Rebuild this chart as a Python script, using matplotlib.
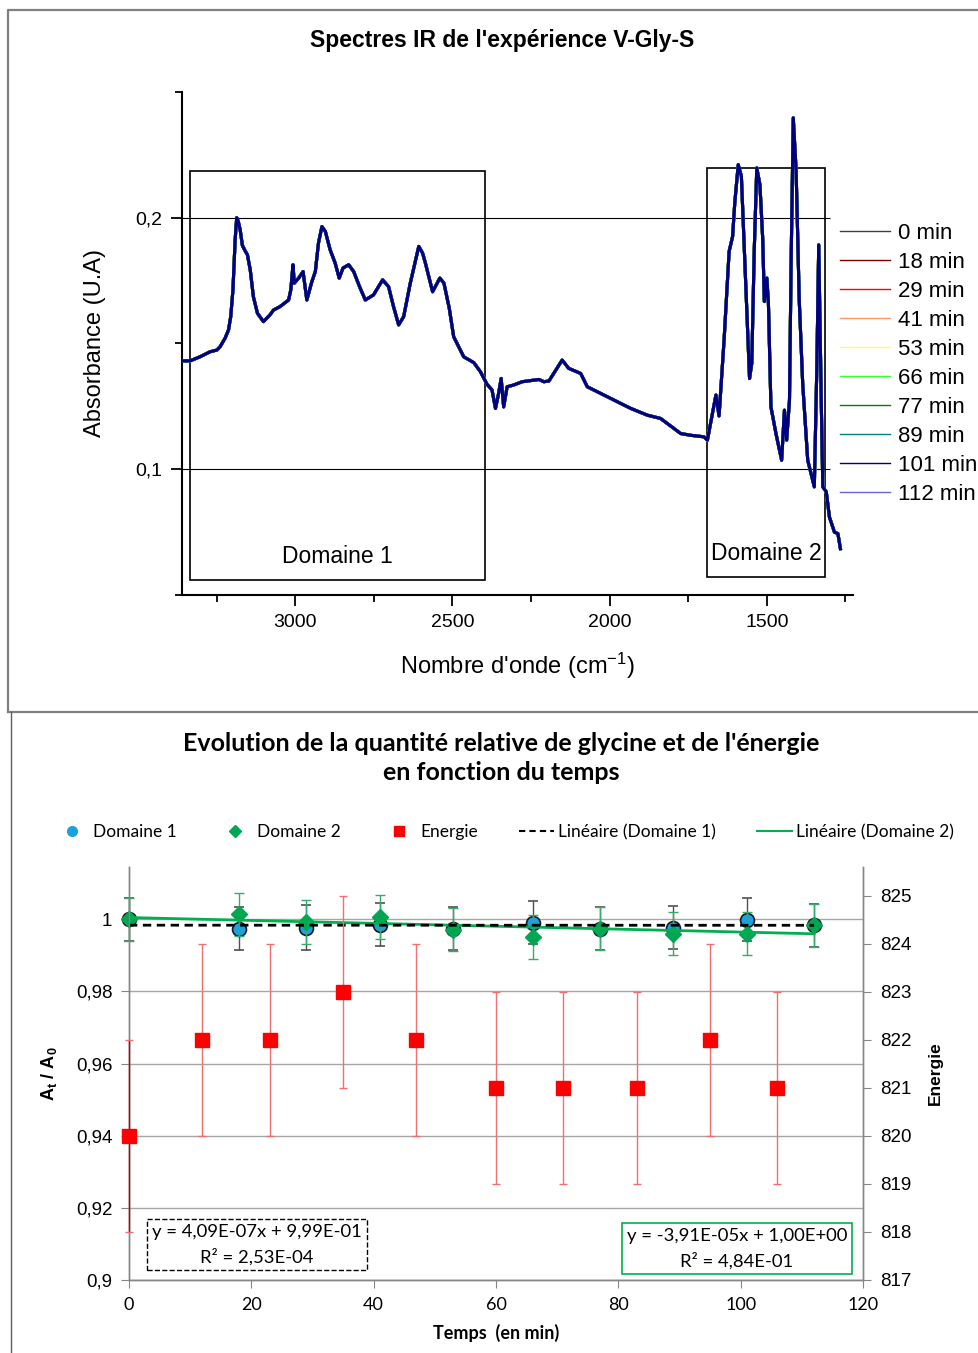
import numpy as np
import matplotlib
matplotlib.use("Agg")
import matplotlib.pyplot as plt
from matplotlib.lines import Line2D
from matplotlib.patches import Rectangle

plt.rcParams['font.family'] = ['Liberation Sans', 'DejaVu Sans']
plt.rcParams['mathtext.fontset'] = 'custom'
plt.rcParams['mathtext.rm'] = 'Liberation Sans'
plt.rcParams['mathtext.it'] = 'Liberation Sans:italic'
plt.rcParams['mathtext.bf'] = 'Liberation Sans:bold'

# ---------------- data: IR spectra ----------------
wavenumber = [3356, 3334, 3303, 3271, 3249, 3239, 3223, 3212, 3205, 3198, 3191, 3186,
              3181, 3175, 3168, 3160, 3152, 3143, 3133, 3120, 3101, 3080, 3069, 3048,
              3021, 3014, 3007, 3003, 2989, 2975, 2968, 2963, 2947, 2936, 2926, 2915,
              2904, 2889, 2873, 2860, 2848, 2830, 2814, 2795, 2777, 2751, 2722, 2703,
              2688, 2671, 2655, 2634, 2607, 2595, 2586, 2563, 2540, 2527, 2510, 2496,
              2464, 2432, 2411, 2390, 2374, 2363, 2353, 2345, 2337, 2326, 2305, 2278,
              2225, 2209, 2193, 2151, 2130, 2092, 2071, 1986, 1933, 1880, 1838, 1774,
              1742, 1700, 1689, 1678, 1662, 1652, 1636, 1620, 1609, 1602, 1591, 1581,
              1572, 1561, 1555, 1548, 1540, 1532, 1522, 1513, 1508, 1500, 1495, 1487,
              1471, 1453, 1444, 1437, 1428, 1423, 1416, 1407, 1397, 1386, 1370, 1349,
              1341, 1335, 1327, 1322, 1311, 1301, 1285, 1274, 1266]
absorbance = [0.1431, 0.1431, 0.1447, 0.1467, 0.1474, 0.1487, 0.1521, 0.1554, 0.1607, 0.1713, 0.1912, 0.2000,
              0.1985, 0.1952, 0.1890, 0.1870, 0.1853, 0.1793, 0.1686, 0.1620, 0.1587, 0.1614, 0.1633, 0.1647,
              0.1673, 0.1713, 0.1813, 0.1740, 0.1760, 0.1786, 0.1720, 0.1673, 0.1746, 0.1786, 0.1899, 0.1965,
              0.1945, 0.1873, 0.1820, 0.1760, 0.1800, 0.1813, 0.1786, 0.1725, 0.1673, 0.1693, 0.1753, 0.1726,
              0.1650, 0.1574, 0.1607, 0.1740, 0.1886, 0.1860, 0.1820, 0.1706, 0.1760, 0.1740, 0.1640, 0.1527,
              0.1447, 0.1424, 0.1388, 0.1338, 0.1315, 0.1242, 0.1302, 0.1361, 0.1248, 0.1328, 0.1335, 0.1348,
              0.1357, 0.1348, 0.1351, 0.1434, 0.1401, 0.1381, 0.1328, 0.1275, 0.1242, 0.1215, 0.1202, 0.1142,
              0.1135, 0.1129, 0.1116, 0.1188, 0.1295, 0.1212, 0.1514, 0.1866, 0.1925, 0.2059, 0.2211, 0.2165,
              0.1886, 0.1541, 0.1361, 0.1421, 0.1873, 0.2198, 0.2131, 0.1912, 0.1667, 0.1760, 0.1660, 0.1248,
              0.1142, 0.1036, 0.1235, 0.1116, 0.1275, 0.1806, 0.2397, 0.2191, 0.1673, 0.1341, 0.1036, 0.0930,
              0.1408, 0.1892, 0.1275, 0.0930, 0.0910, 0.0810, 0.0750, 0.0744, 0.0684]
spectrum_labels = ['0 min', '18 min', '29 min', '41 min', '53 min', '66 min',
                   '77 min', '89 min', '101 min', '112 min']
spectrum_colors = ['#404040', '#800000', '#FF0000', '#FF9966', '#FFFF66', '#33FF33',
                   '#008000', '#008080', '#000080', '#6666CC']
domain_labels = ['Domaine 1', 'Domaine 2']
domain1_limits = (3334, 2395, 0.0558, 0.2187)
domain2_limits = (1691, 1315, 0.0570, 0.2199)

# ---------------- data: kinetics ----------------
time_min = [0, 18, 29, 41, 53, 66, 77, 89, 101, 112]
domaine1 = [1.0, 0.99742, 0.9977, 0.99853, 0.99742, 0.99908, 0.99742, 0.9977, 0.99992, 0.99834]
domaine1_err = [0.006, 0.006, 0.0062, 0.006, 0.006, 0.006, 0.006, 0.006, 0.006, 0.006]
domaine2 = [1.0, 1.00139, 0.99926, 1.00065, 0.99714, 0.9951, 0.99742, 0.9960, 0.9960, 0.99834]
domaine2_err = [0.006, 0.006, 0.006, 0.006, 0.006, 0.006, 0.006, 0.006, 0.006, 0.006]
energy_time = [0, 12, 23, 35, 47, 60, 71, 83, 95, 106]
energy = [820, 822, 822, 823, 822, 821, 821, 821, 822, 821]
energy_err = [2, 2, 2, 2, 2, 2, 2, 2, 2, 2]
left_ticks = [0.9, 0.92, 0.94, 0.96, 0.98, 1.0]
left_ticklabels = ['0,9', '0,92', '0,94', '0,96', '0,98', '1']
right_ticks = [817, 818, 819, 820, 821, 822, 823, 824, 825]
x_ticks = [0, 20, 40, 60, 80, 100, 120]
eq1_text = "y = 4,09E-07x + 9,99E-01\nR² = 2,53E-04"
eq2_text = "y = -3,91E-05x + 1,00E+00\nR² = 4,84E-01"

W, H = 979, 1353
fig = plt.figure(figsize=(W / 100, H / 100), dpi=100)

def rect(l, t, r, b):
    return [l / W, 1 - b / H, (r - l) / W, (b - t) / H]

# ---------------- panel borders ----------------
fig.add_artist(Line2D([8 / W, 8 / W, 1], [1 - 712 / H, 1 - 10 / H, 1 - 10 / H],
                      transform=fig.transFigure, color='#808080', lw=1.6))
fig.add_artist(Line2D([8 / W, 1], [1 - 712 / H, 1 - 712 / H],
                      transform=fig.transFigure, color='#808080', lw=1.6))
fig.add_artist(Line2D([11 / W, 11 / W], [0, 1 - 712 / H],
                      transform=fig.transFigure, color='#606060', lw=1.0))

# ---------------- top chart ----------------
ax = fig.add_axes(rect(182, 92, 853, 595))
ax.set_xlim(3360, 1226)
ax.set_ylim(0.05, 0.25)
for s in ['top', 'right']:
    ax.spines[s].set_visible(False)
for s in ['left', 'bottom']:
    ax.spines[s].set_linewidth(1.5)
ax.hlines([0.1, 0.2], 3360, 1300, color='black', lw=0.8, zorder=1)

handles = []
for lab, col in zip(spectrum_labels, spectrum_colors):
    z = 4 if lab == '101 min' else 3
    ax.plot(wavenumber, absorbance, color=col, lw=2.2, zorder=z, solid_joinstyle='round')
    handles.append(Line2D([], [], color=col, lw=1.0))

for (x0, x1, y0, y1), lab in zip([domain1_limits, domain2_limits], domain_labels):
    ax.add_patch(Rectangle((x0, y0), x1 - x0, y1 - y0, fill=False, ec='black', lw=1.2, zorder=2))
    ax.text((x0 + x1) / 2, y0 + 0.0095, lab, ha='center', va='center', fontsize=16.5, zorder=5)

ax.set_xticks([3000, 2500, 2000, 1500])
ax.set_xticks([3250, 2750, 2250, 1750, 1250], minor=True)
ax.set_xticklabels(['3000', '2500', '2000', '1500'])
ax.set_yticks([0.1, 0.2])
ax.set_yticks([0.05, 0.15, 0.25], minor=True)
ax.set_yticklabels(['0,1', '0,2'])
ax.tick_params(which='major', direction='out', length=8, width=1.3, labelsize=14, pad=6)
ax.tick_params(which='minor', direction='out', length=5, width=1.3)
ax.set_xlabel("Nombre d'onde (cm$^{-1}$)", fontsize=17, labelpad=14)
ax.set_ylabel("Absorbance (U.A)", fontsize=17, labelpad=21)
fig.text(502 / W, 1 - 40 / H, "Spectres IR de l'expérience V-Gly-S",
         ha='center', va='center', fontsize=16.5, fontweight='bold')
ax.legend(handles, spectrum_labels, loc='upper left', bbox_to_anchor=(0.9806, 0.7396),
          frameon=False, fontsize=16, handlelength=2.25, handletextpad=0.36,
          labelspacing=0.36, borderpad=0, borderaxespad=0)

# ---------------- bottom chart ----------------
calibri = ['Lato', 'DejaVu Sans']
axb = fig.add_axes(rect(129, 867, 863, 1280))
axb.set_xlim(0, 120)
axb.set_ylim(0.9, 1.0145)
axe = axb.twinx()
axe.set_ylim(817, 825.6)
for a in (axb, axe):
    a.spines['top'].set_visible(False)
    for s in ['left', 'right', 'bottom']:
        a.spines[s].set_color('#868686')
        a.spines[s].set_linewidth(1.0)
axb.set_axisbelow(True)
axb.yaxis.grid(True, color='#A6A6A6', lw=1.0)
axb.set_yticks(left_ticks)
axb.set_yticklabels(left_ticklabels)
axb.set_xticks(x_ticks)
axb.set_xticklabels([str(v) for v in x_ticks], family=calibri, fontsize=13)
axe.set_yticks(right_ticks)
axe.set_yticklabels([str(v) for v in right_ticks])
axb.tick_params(axis='y', direction='out', length=6, color='#868686', labelsize=13.5, pad=6)
axb.tick_params(axis='x', direction='out', length=6, color='#868686', pad=6)
axe.tick_params(axis='y', direction='out', length=6, color='#868686', labelsize=13.5, pad=6)

e1 = axb.errorbar(time_min, domaine1, yerr=domaine1_err, fmt='o', ms=10, mfc='#1BA1E2',
                  mec='#1a1a1a', mew=1.2, ecolor='#505050', elinewidth=1, capsize=3.5, zorder=3)
e2 = axb.errorbar(time_min, domaine2, yerr=domaine2_err, fmt='D', ms=8.5, mfc='#00A651',
                  mec='#00A651', ecolor='#3AAA6A', elinewidth=1, capsize=3.5, zorder=4)
for cont in (e1, e2):
    for art in cont.get_children():
        art.set_clip_on(False)

p1 = np.polyfit(time_min, domaine1, 1)
p2 = np.polyfit(time_min, domaine2, 1)
xfit = np.array([min(time_min), max(time_min)])
axb.plot(xfit, np.polyval(p1, xfit), color='black', ls=(0, (3, 2)), lw=2, zorder=6)
axb.plot(xfit, np.polyval(p2, xfit), color='#00B050', ls='-', lw=2, zorder=5)

e3 = axe.errorbar(energy_time, energy, yerr=energy_err, fmt='s', ms=10, mfc='#FF0000',
                  mec='#FF0000', ecolor='#F07070', elinewidth=1, capsize=3, zorder=3)
e3[2][0].set_color(['#C00000'] + ['#F07070'] * (len(energy) - 1))
for art in e3.get_children():
    art.set_clip_on(False)

axb.text(20.9, 0.90983, eq1_text, ha='center', va='center', multialignment='center',
         family=calibri, fontsize=13.3, linespacing=1.55, zorder=7,
         bbox=dict(boxstyle='square,pad=0.28', fc='white', ec='black', ls='--', lw=1))
axb.text(99.4, 0.90873, eq2_text, ha='center', va='center', multialignment='center',
         family=calibri, fontsize=13.3, linespacing=1.55, zorder=7,
         bbox=dict(boxstyle='square,pad=0.28', fc='white', ec='#00B050', lw=1.2))

axb.set_xlabel("Temps  (en min)", family=calibri, fontsize=13, fontweight='bold', labelpad=8)
axb.set_ylabel(r"$\mathbf{A_t\ /\ A_0}$", fontsize=13, labelpad=12)
axe.set_ylabel("Energie", fontsize=12.5, fontweight='bold', labelpad=12)

fig.text(501 / W, 1 - 758 / H,
         "Evolution de la quantité relative de glycine et de l'énergie\nen fonction du temps",
         ha='center', va='center', family=calibri, fontsize=18, fontweight='bold', linespacing=1.35)

leg_handles = [
    Line2D([], [], marker='o', ls='none', ms=7, mfc='#1BA1E2', mec='#1BA1E2'),
    Line2D([], [], marker='D', ls='none', ms=6, mfc='#00A651', mec='#00A651'),
    Line2D([], [], marker='s', ls='none', ms=7, mfc='#FF0000', mec='#FF0000'),
    Line2D([], [], color='black', ls=(0, (3, 2)), lw=1.5),
    Line2D([], [], color='#00B050', lw=1.5),
]
leg_labels = ['Domaine 1', 'Domaine 2', 'Energie', 'Linéaire (Domaine 1)', 'Linéaire (Domaine 2)']
fig.legend(leg_handles, leg_labels, loc='center', bbox_to_anchor=(504 / W, 1 - 832 / H),
           ncol=5, frameon=False, prop={'family': calibri, 'size': 12.5},
           handlelength=2.0, handletextpad=0.25, columnspacing=2.35)

fig.savefig('out.png', dpi=100)
